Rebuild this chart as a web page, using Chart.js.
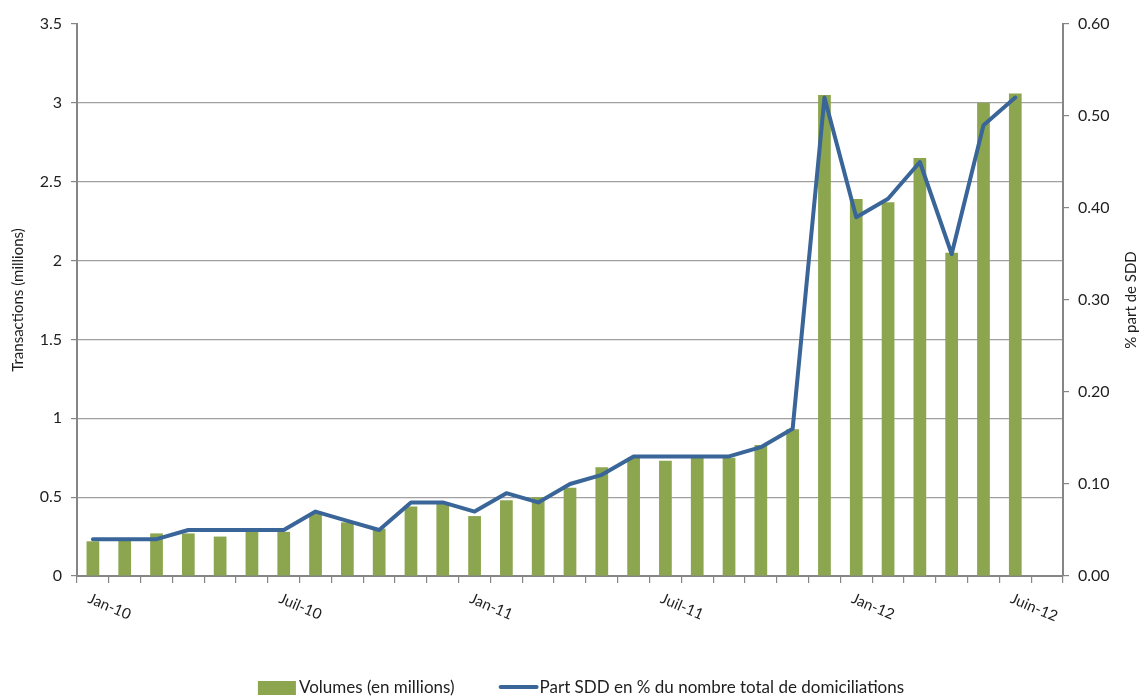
<!DOCTYPE html>
<html>
<head>
<meta charset="utf-8">
<title>Prélèvements SDD</title>
<script src="https://cdn.jsdelivr.net/npm/chart.js@4.4.0/dist/chart.umd.min.js"></script>
<style>
  html, body { margin: 0; padding: 0; background: #fff; }
  #wrap { width: 1140px; height: 697px; position: relative; }
</style>
</head>
<body>
<div id="wrap"><canvas id="sddChart"></canvas></div>
<script>
// Monthly SDD volumes, Jan 2010 to Jun 2012 (last slot left empty)
const months = [
  'Jan-10', 'Fév-10', 'Mars-10', 'Avr-10', 'Mai-10', 'Juin-10',
  'Juil-10', 'Août-10', 'Sept-10', 'Oct-10', 'Nov-10', 'Déc-10',
  'Jan-11', 'Fév-11', 'Mars-11', 'Avr-11', 'Mai-11', 'Juin-11',
  'Juil-11', 'Août-11', 'Sept-11', 'Oct-11', 'Nov-11', 'Déc-11',
  'Jan-12', 'Fév-12', 'Mars-12', 'Avr-12', 'Mai-12', 'Juin-12',
  'Juil-12'
];
const shownLabels = ['Jan-10', 'Juil-10', 'Jan-11', 'Juil-11', 'Jan-12', 'Juin-12'];

const volumes = [
  0.22, 0.24, 0.27, 0.27, 0.25, 0.28,
  0.28, 0.40, 0.34, 0.30, 0.44, 0.46,
  0.38, 0.48, 0.50, 0.56, 0.69, 0.75,
  0.73, 0.75, 0.75, 0.83, 0.93, 3.05,
  2.39, 2.37, 2.65, 2.05, 3.00, 3.06,
  null
];
const sddShare = [
  0.04, 0.04, 0.04, 0.05, 0.05, 0.05,
  0.05, 0.07, 0.06, 0.05, 0.08, 0.08,
  0.07, 0.09, 0.08, 0.10, 0.11, 0.13,
  0.13, 0.13, 0.13, 0.14, 0.16, 0.52,
  0.39, 0.41, 0.45, 0.35, 0.49, 0.52,
  null
];

const volumeMax = 3.5, volumeStep = 0.5;
const shareMax = 0.6, shareStep = 0.1;

const GREEN = '#8BA64F';
const BLUE = '#3A6598';
const AXIS = '#868686';
const GRID = '#a0a0a0';
const TEXT = '#1e1e1e';
const FONT = 'Lato';

Chart.defaults.font.family = FONT;
Chart.defaults.color = TEXT;

// x labels slant downwards, which the built-in rotation can't do
const slantedLabels = {
  id: 'slantedLabels',
  afterDraw(chart) {
    const { ctx, scales: { x } } = chart;
    ctx.save();
    ctx.font = '15px ' + FONT;
    ctx.fillStyle = TEXT;
    ctx.textAlign = 'left';
    ctx.textBaseline = 'top';
    months.forEach((m, i) => {
      if (!shownLabels.includes(m)) return;
      ctx.save();
      ctx.translate(x.getPixelForValue(i) - 1, x.top + 15);
      ctx.rotate(23 * Math.PI / 180);
      ctx.fillText(m, 0, 0);
      ctx.restore();
    });
    ctx.restore();
  }
};

// right axis title reads bottom-to-top
const rightTitle = {
  id: 'rightTitle',
  afterDraw(chart) {
    const { ctx, chartArea } = chart;
    ctx.save();
    ctx.font = '15px ' + FONT;
    ctx.fillStyle = TEXT;
    ctx.textAlign = 'center';
    ctx.textBaseline = 'middle';
    ctx.translate(1131, (chartArea.top + chartArea.bottom) / 2);
    ctx.rotate(-Math.PI / 2);
    ctx.fillText('% part de SDD', 0, 0);
    ctx.restore();
  }
};

// legend row under the axis labels
const bottomLegend = {
  id: 'bottomLegend',
  afterDraw(chart) {
    const { ctx, width } = chart;
    const ds = chart.data.datasets;
    const y = 688;
    ctx.save();
    ctx.font = '17px ' + FONT;
    ctx.textBaseline = 'middle';
    ctx.textAlign = 'left';
    const w0 = ctx.measureText(ds[0].label).width;
    const w1 = ctx.measureText(ds[1].label).width;
    const swatch = 38, gap = 3, between = 44;
    const total = swatch + gap + w0 + between + swatch + gap + w1;
    let cx = (width - total) / 2 + 11;

    ctx.fillStyle = ds[0].backgroundColor;
    ctx.fillRect(cx, y - 7, swatch, 14);
    cx += swatch + gap;
    ctx.fillStyle = TEXT;
    ctx.fillText(ds[0].label, cx, y);
    cx += w0 + between;

    ctx.strokeStyle = ds[1].borderColor;
    ctx.lineWidth = 4;
    ctx.lineCap = 'round';
    ctx.beginPath();
    ctx.moveTo(cx + 2, y - 1);
    ctx.lineTo(cx + swatch, y - 1);
    ctx.stroke();
    cx += swatch + gap;
    ctx.fillText(ds[1].label, cx, y);
    ctx.restore();
  }
};

new Chart(document.getElementById('sddChart'), {
  data: {
    labels: months,
    datasets: [
      {
        type: 'bar',
        label: 'Volumes (en millions)',
        data: volumes,
        backgroundColor: GREEN,
        barPercentage: 0.4,
        categoryPercentage: 1,
        yAxisID: 'y',
        order: 2
      },
      {
        type: 'line',
        label: 'Part SDD en % du nombre total de domiciliations',
        data: sddShare,
        borderColor: BLUE,
        backgroundColor: BLUE,
        borderWidth: 4,
        borderJoinStyle: 'round',
        borderCapStyle: 'round',
        pointRadius: 0,
        tension: 0,
        yAxisID: 'y1',
        order: 1
      }
    ]
  },
  options: {
    responsive: true,
    maintainAspectRatio: false,
    animation: false,
    layout: { padding: { top: 24, left: 0, right: 0, bottom: 0 } },
    plugins: {
      legend: { display: false },
      tooltip: { enabled: true }
    },
    scales: {
      x: {
        offset: true,
        grid: {
          display: true,
          offset: true,
          drawOnChartArea: false,
          drawTicks: true,
          tickLength: 7,
          color: AXIS,
          lineWidth: 1.2
        },
        border: { color: AXIS, width: 2 },
        ticks: { display: false, autoSkip: false },
        afterFit(scale) { scale.height = 121; }
      },
      y: {
        position: 'left',
        min: 0,
        max: volumeMax,
        ticks: {
          stepSize: volumeStep,
          padding: 9,
          font: { size: 16 },
          color: TEXT,
          callback: v => String(+v.toFixed(1))
        },
        grid: {
          color: c => (c.tick && c.tick.value === volumeMax) ? 'rgba(0,0,0,0)' : GRID,
          tickColor: AXIS,
          tickLength: 6,
          lineWidth: 1.2
        },
        border: { color: AXIS, width: 2 },
        title: {
          display: true,
          text: 'Transactions (millions)',
          font: { size: 15 },
          color: TEXT,
          padding: { top: 9, bottom: 0 }
        },
        afterFit(scale) { scale.width = 77; }
      },
      y1: {
        position: 'right',
        min: 0,
        max: shareMax,
        ticks: {
          stepSize: shareStep,
          padding: 9,
          font: { size: 16 },
          color: TEXT,
          callback: v => v.toFixed(2)
        },
        grid: {
          drawOnChartArea: false,
          color: AXIS,
          tickColor: AXIS,
          tickLength: 6,
          lineWidth: 1.2
        },
        border: { color: AXIS, width: 2 },
        afterFit(scale) { scale.width = 77; }
      }
    }
  },
  plugins: [slantedLabels, rightTitle, bottomLegend]
});
</script>
</body>
</html>
